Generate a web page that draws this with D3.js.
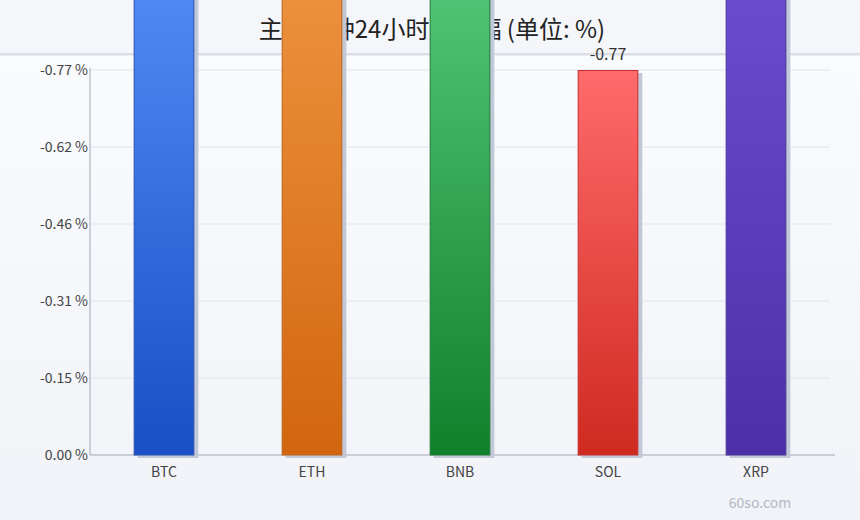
<!DOCTYPE html>
<html><head><meta charset="utf-8">
<script src="https://cdn.jsdelivr.net/npm/d3@7"></script>
<style>
html,body{margin:0;padding:0;}
body{width:860px;height:520px;overflow:hidden;font-family:"Noto Sans CJK SC","Noto Sans",sans-serif;}
</style></head><body>
<svg id="chart" width="860" height="520"></svg>
<script>
const categories = ["BTC","ETH","BNB","SOL","XRP"];
const values = [-1.12, -1.35, -0.96, -0.77, -1.58];
const topColors = ["#4f88f2","#ec903c","#50c273","#ff6b6b","#6a4bcc"];
const bottomColors = ["#1a4fc5","#d2660f","#11802b","#cf2a20","#4d30a8"];
const strokeColors = ["#2a50b0","#b8651c","#1f7a35","#c43030","#4a3399"];
const titleText = "主流币种24小时涨跌幅 (单位: %)";
const axisMax = 0.77;
const tickCount = 5;

const W = 860, H = 520;
const margin = {left: 90, right: 30, top: 70, bottom: 65};
const svg = d3.select("#chart");
const defs = svg.append("defs");

// background
const bg = defs.append("linearGradient").attr("id","bg").attr("x1",0).attr("y1",0).attr("x2",0).attr("y2",1);
bg.append("stop").attr("offset","0%").attr("stop-color","#fbfcfe");
bg.append("stop").attr("offset","100%").attr("stop-color","#f1f3f8");
svg.append("rect").attr("width",W).attr("height",H).attr("fill","url(#bg)");
svg.append("rect").attr("width",W).attr("height",53).attr("fill","#f5f6f9");
svg.append("rect").attr("y",53).attr("width",W).attr("height",2.5).attr("fill","#dcdfe7");

const x = d3.scaleBand().domain(categories).range([margin.left, W - margin.right]).paddingInner(0.59).paddingOuter(0.295);
const y = d3.scaleLinear().domain([0, axisMax]).range([H - margin.bottom, margin.top]);
const ticks = d3.range(tickCount + 1).map(i => axisMax * i / tickCount);

// title (drawn beneath bars)
svg.append("text").attr("x", 432).attr("y", 38).attr("text-anchor","middle")
  .attr("font-size", 24).attr("fill", "#222").text(titleText);

// grid
svg.append("g").selectAll("line").data(ticks.slice(1)).join("line")
  .attr("x1", margin.left).attr("x2", 830)
  .attr("y1", d => y(d)).attr("y2", d => y(d))
  .attr("stroke", "#e1e4ec").attr("stroke-width", 1);

// y axis
const yAxis = svg.append("g").attr("transform", `translate(${margin.left},0)`)
  .call(d3.axisLeft(y).tickValues(ticks).tickSize(0).tickPadding(2)
    .tickFormat(d => (d === 0 ? "" : "-") + d3.format(".2f")(d) + " %"));
yAxis.select(".domain").attr("stroke", "#a3a8b4").attr("d", `M0,${y(0)}V${y(axisMax) - 2}`);
yAxis.selectAll("text").attr("font-size", 14).attr("fill", "#444").attr("font-family", "'Noto Sans CJK SC','Noto Sans',sans-serif");

// x axis
svg.append("line").attr("x1", margin.left).attr("x2", 835).attr("y1", y(0)).attr("y2", y(0)).attr("stroke", "#a3a8b4");
svg.append("g").selectAll("text").data(categories).join("text")
  .attr("x", d => x(d) + x.bandwidth() / 2).attr("y", 477)
  .attr("text-anchor", "middle").attr("font-size", 14).attr("fill", "#444").text(d => d);

const data = categories.map((c, i) => ({c, v: values[i], i}));

// gradients
data.forEach(d => {
  const top = Math.max(0, y(-d.v));
  const g = defs.append("linearGradient").attr("id", "g" + d.i).attr("gradientUnits", "userSpaceOnUse")
    .attr("x1", 0).attr("x2", 0).attr("y1", top).attr("y2", y(0));
  g.append("stop").attr("offset", "0%").attr("stop-color", topColors[d.i]);
  g.append("stop").attr("offset", "100%").attr("stop-color", bottomColors[d.i]);
});

// shadows
svg.append("g").selectAll("rect").data(data).join("rect")
  .attr("x", d => x(d.c) + 4).attr("y", d => y(-d.v) + 3)
  .attr("width", x.bandwidth()).attr("height", d => y(0) - y(-d.v))
  .attr("fill", "#c3c8d9");

// bars
svg.append("g").selectAll("rect").data(data).join("rect")
  .attr("x", d => x(d.c) + 0.5).attr("y", d => y(-d.v) + 0.5)
  .attr("width", x.bandwidth() - 1).attr("height", d => y(0) - y(-d.v) - 0.5)
  .attr("fill", d => `url(#g${d.i})`)
  .attr("stroke", d => strokeColors[d.i]).attr("stroke-width", 1);

// value labels (only those that fall inside the picture, as in the reference)
svg.append("g").selectAll("text").data(data.filter(d => y(-d.v) - 10 > 16)).join("text")
  .attr("x", d => x(d.c) + x.bandwidth() / 2).attr("y", d => y(-d.v) - 10)
  .attr("text-anchor", "middle").attr("font-size", 16).attr("fill", "#333")
  .text(d => d.v.toFixed(2));

// watermark
svg.append("text").attr("x", 760).attr("y", 508).attr("text-anchor", "middle")
  .attr("font-size", 14).attr("fill", "#b3b8c3").text("60so.com");
</script>
</body></html>
